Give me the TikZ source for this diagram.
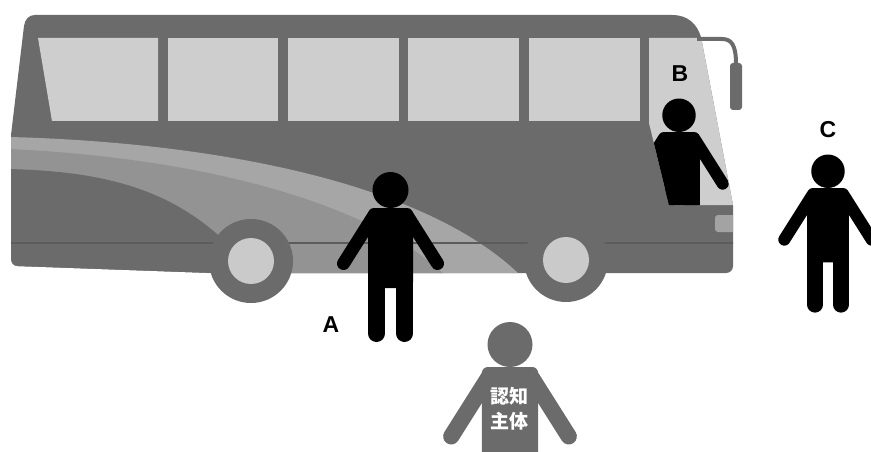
\documentclass[tikz,border=0pt]{standalone}
\usepackage{fontspec}
\setmainfont{Liberation Sans}
\newfontfamily\cjkfont{Noto Sans CJK JP}
\definecolor{busbody}{HTML}{6B6B6B}
\definecolor{glass}{HTML}{CECECE}
\definecolor{stripelight}{HTML}{A6A6A6}
\definecolor{stripemid}{HTML}{939393}
\definecolor{trimline}{HTML}{5C5C5C}
\definecolor{hub}{HTML}{CACACA}
\definecolor{lamp}{HTML}{A3A3A3}
\tikzset{
  % standing pictogram; the argument is its size factor
  pics/person/.style={code={
    \begin{scope}[scale=#1]
      \fill (0,-18) circle[radius=18];
      \fill[rounded corners=6] (-22.5,80) -- (-22.5,0) -- (22.5,0) -- (22.5,80) -- cycle;
      \draw[line width=#1*13, line cap=round] (-17,8) -- (-47,55.5);
      \draw[line width=#1*13, line cap=round] (17,8) -- (47,55.5);
      \draw[line width=#1*17, line cap=round] (-14,70) -- (-14,125.5);
      \draw[line width=#1*17, line cap=round] (14,70) -- (14,125.5);
    \end{scope}
  }},
  letter/.style={font=\bfseries\fontsize{23}{23}\selectfont, inner sep=0pt},
  wheelrim/.style={fill=busbody},
  wheelhub/.style={fill=hub}
}
\begin{document}
\begin{tikzpicture}[x=1pt,y=-1pt]
\useasboundingbox (0,0) rectangle (871,452);
\begin{scope}
\clip (0,0) rectangle (871,452);

% ---- bus body with its livery, windows and windscreen
\begin{scope}
  \clip (35,15) -- (672,15) .. controls (688,15) and (697,24) .. (701,37)
        -- (733,205) -- (733,266) .. controls (733,270) and (730,273) .. (726,273)
        -- (213,273) -- (18,266) .. controls (13,266) and (11,262) .. (11,258)
        -- (11,135) -- (24,26) .. controls (25,19) and (29,15) .. (35,15) -- cycle;
  \fill[busbody] (0,0) rectangle (871,452);
  % side swooshes
  \fill[stripelight] (0,137) -- (10,137) .. controls (200,142) and (420,178) .. (520,275)
        -- (520,290) -- (0,290) -- cycle;
  \fill[stripemid] (0,149) -- (10,149) .. controls (180,157) and (360,195) .. (445,275)
        -- (445,290) -- (0,290) -- cycle;
  \fill[busbody] (0,169) -- (10,169) .. controls (110,172) and (190,190) .. (255,275)
        -- (255,290) -- (0,290) -- cycle;
  \draw[trimline, line width=1.8] (0,243) -- (740,243);
  % side windows
  \fill[glass] (38,38) -- (158,38) -- (158,121) -- (52,121) -- cycle;
  \fill[glass] (168,38) rectangle (278,121);
  \fill[glass] (288,38) rectangle (399,121);
  \fill[glass] (408,38) rectangle (519,121);
  \fill[glass] (529,38) rectangle (640,121);
  % windscreen with the driver behind it
  \fill[glass] (649,38) -- (706,38) -- (742,205) -- (669,205) -- (649,123) -- cycle;
  \begin{scope}
    \clip (649,38) -- (706,38) -- (742,205) -- (669,205) -- (649,123) -- cycle;
    \pic[black] (pb) at (679,132) {person=0.93};
  \end{scope}
  % headlamp
  \fill[lamp, rounded corners=3] (715,215) rectangle (745,232);
\end{scope}

% mirror
\draw[busbody, line width=4] (697,39) -- (722,39) .. controls (732,39) and (736,46) .. (736,64);
\fill[busbody, rounded corners=3] (730,63) rectangle (742,110);

% wheels
\fill[wheelrim] (251,261) circle[radius=42];
\fill[wheelhub] (251,261) circle[radius=23];
\fill[wheelrim] (566,260) circle[radius=42];
\fill[wheelhub] (566,260) circle[radius=23];

% people
\pic[black] (pa) at (390.5,208) {person=1};
\pic[black] (pc) at (828,188) {person=0.93};
\pic[busbody] (pme) at (510,367) {person=1.25};

\node[text=white, font=\cjkfont\bfseries\fontsize{19}{25}\selectfont, align=center, inner sep=0pt]
  (tag) at (509,409) {認知\\主体};

\node[letter] (la) at (331,325) {A};
\node[letter] (lb) at (680,74) {B};
\node[letter] (lc) at (828,130) {C};
\end{scope}
\end{tikzpicture}
\end{document}
